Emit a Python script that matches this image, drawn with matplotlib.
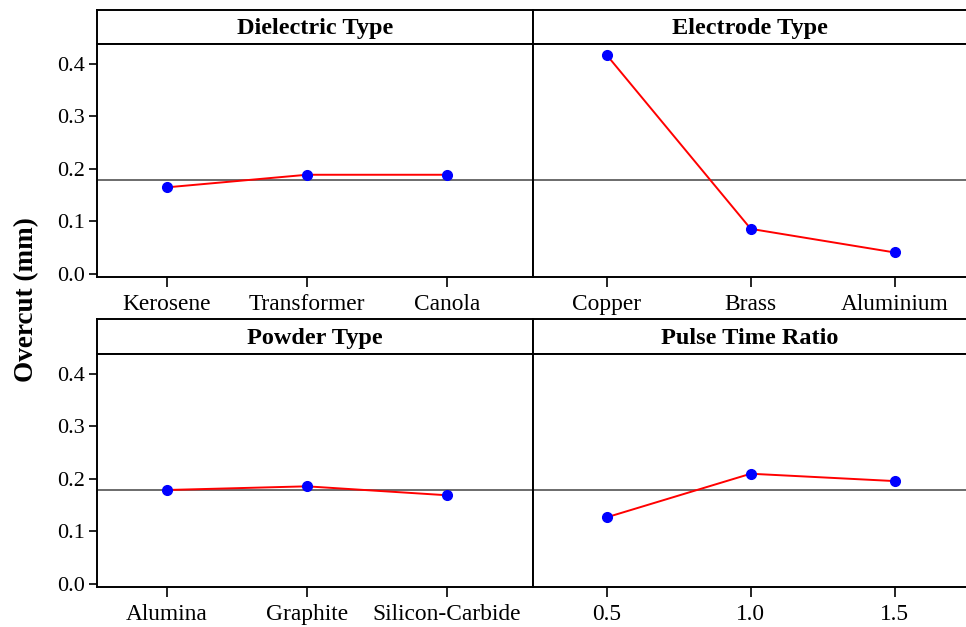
import matplotlib
matplotlib.use("Agg")
import matplotlib.pyplot as plt

plt.rcParams['font.family'] = ['Liberation Serif', 'DejaVu Serif']

W, H = 966, 627
DPI = 100

# Data
dielectric_levels = ["Kerosene", "Transformer", "Canola"]
dielectric_means = [0.165, 0.189, 0.189]
electrode_levels = ["Copper", "Brass", "Aluminium"]
electrode_means = [0.417, 0.086, 0.041]
powder_levels = ["Alumina", "Graphite", "Silicon-Carbide"]
powder_means = [0.179, 0.186, 0.169]
pulse_levels = ["0.5", "1.0", "1.5"]
pulse_means = [0.127, 0.210, 0.196]
grand_mean = 0.179

panels = [
    ("Dielectric Type", dielectric_levels, dielectric_means),
    ("Electrode Type", electrode_levels, electrode_means),
    ("Powder Type", powder_levels, powder_means),
    ("Pulse Time Ratio", pulse_levels, pulse_means),
]

fig = plt.figure(figsize=(W / DPI, H / DPI), dpi=DPI)

def rect(x0, y0, x1, y1):
    # pixel coords (top-left origin) -> figure fraction
    return [x0 / W, 1 - y1 / H, (x1 - x0) / W, (y1 - y0) / H]

cols = [(97, 533), (533, 966)]
rows = [((9.5, 44), (44, 277)), ((319.5, 354), (354, 587))]
xlims = [(0.503, 3.613), (0.488, 3.495)]
ylim = (-0.0057, 0.438)
LW = 1.4

for i, (title, levels, means) in enumerate(panels):
    r, c = divmod(i, 2)
    x0, x1 = cols[c]
    (hy0, hy1), (py0, py1) = rows[r]
    # header
    hax = fig.add_axes(rect(x0, hy0, x1, hy1))
    hax.set_xticks([]); hax.set_yticks([])
    for s in hax.spines.values():
        s.set_linewidth(LW)
    if c == 1:
        hax.spines['right'].set_visible(False)
    hax.text(0.5, 0.45, title, ha='center', va='center', fontsize=17.5,
             fontweight='bold', transform=hax.transAxes)
    # plot
    ax = fig.add_axes(rect(x0, py0, x1, py1))
    xs = list(range(1, len(levels) + 1))
    ax.axhline(grand_mean, color='#606060', lw=1.3, zorder=1)
    ax.plot(xs, means, color='red', lw=1.4, zorder=2)
    ax.plot(xs, means, 'o', color='#0000ff', ms=7, zorder=3)
    ax.set_xlim(*xlims[c])
    ax.set_ylim(*ylim)
    ax.set_xticks(xs)
    ax.set_xticklabels(levels, fontsize=16.8)
    ax.tick_params(axis='x', direction='out', length=7, width=1.2, pad=5)
    if c == 0:
        ax.set_yticks([0.0, 0.1, 0.2, 0.3, 0.4])
        ax.set_yticklabels(["0.0", "0.1", "0.2", "0.3", "0.4"], fontsize=16)
        ax.tick_params(axis='y', direction='out', length=6, width=1.2, pad=3)
    else:
        ax.set_yticks([])
        ax.spines['right'].set_visible(False)
    for s in ax.spines.values():
        s.set_linewidth(LW)

fig.text(27 / W, 1 - 300 / H, "Overcut (mm)", rotation=90, ha='center',
         va='center', fontsize=19.5, fontweight='bold')

fig.savefig("out.png", dpi=DPI)
